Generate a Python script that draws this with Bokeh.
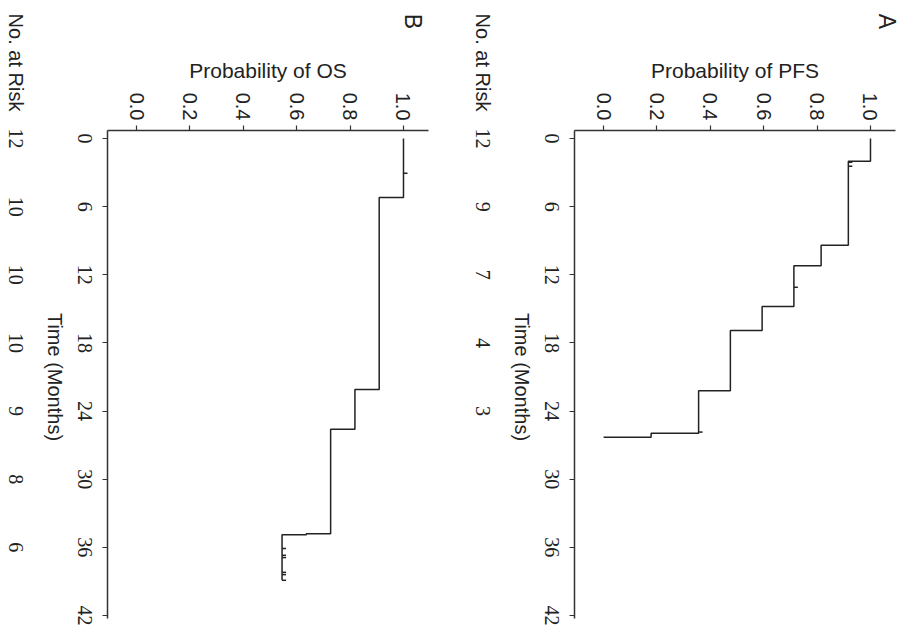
import math
from bokeh.plotting import figure
from bokeh.models import (Range1d, FixedTicker, PrintfTickFormatter, Label,
                          LabelSet, ColumnDataSource)
from bokeh.layouts import row
from bokeh.embed import file_html
from bokeh.resources import INLINE

# ---------------- data ----------------
time_ticks = [0, 6, 12, 18, 24, 30, 36, 42]
prob_ticks = [0.0, 0.2, 0.4, 0.6, 0.8, 1.0]

# Panel A: progression-free survival (step start times and survival levels)
pfs_time = [0, 2.0, 9.4, 11.2, 14.8, 16.9, 22.2, 25.95, 26.3]
pfs_surv = [1.0, 0.917, 0.815, 0.713, 0.594, 0.475, 0.356, 0.178, 0.0]
pfs_end = 26.3
pfs_cens_time = [2.1, 2.45, 13.1, 25.85]
pfs_cens_surv = [0.917, 0.917, 0.713, 0.356]
pfs_risk_time = [0, 6, 12, 18, 24]
pfs_risk = [12, 9, 7, 4, 3]

# Panel B: overall survival
os_time = [0, 5.2, 22.1, 25.6, 34.8, 34.9]
os_surv = [1.0, 0.909, 0.818, 0.727, 0.636, 0.545]
os_end = 38.9
os_cens_time = [3.05, 36.1, 36.7, 36.9, 38.2, 38.4, 38.9]
os_cens_surv = [1.0, 0.545, 0.545, 0.545, 0.545, 0.545, 0.545]
os_risk_time = [0, 6, 12, 18, 24, 30, 36]
os_risk = [12, 10, 10, 10, 9, 8, 6]

# ---------------- style / geometry ----------------
FONT = "Liberation Sans"
INK = "#222222"
AXIS = "#333333"
ROT = -math.pi / 2  # text reads top to bottom

H = 628            # figure height (px)
PX_P = 266.9       # px per unit probability
PX_T = 11.357      # px per month
T0_PX = 138        # y pixel of time 0
P_AXIS = -0.109    # probability where the time axis sits
P_AXIS_END = 1.094
T_AXIS = (130 - T0_PX) / PX_T      # time where the probability axis sits
T_AXIS_END = (618 - T0_PX) / PX_T


def km_path(times, surv, t_end):
    xs, ys = [surv[0]], [times[0]]
    for i in range(1, len(times)):
        xs += [surv[i - 1], surv[i]]
        ys += [times[i], times[i]]
    xs.append(surv[-1])
    ys.append(t_end)
    return xs, ys


def make_panel(letter, ylabel, times, surv, t_end, cens_t, cens_s,
               risk_t, risk_n, width, axis_px, letter_dx):
    x0 = P_AXIS - axis_px / PX_P
    x_rng = Range1d(x0, x0 + width / PX_P)
    y_rng = Range1d((H - T0_PX) / PX_T, -T0_PX / PX_T)
    p = figure(width=width, height=H, x_range=x_rng, y_range=y_rng,
               x_axis_location="above",
               output_backend="svg", toolbar_location=None, min_border=0)
    p.grid.visible = False
    p.outline_line_color = None
    p.background_fill_color = "white"
    p.border_fill_color = "white"

    # probability axis (top)
    xa = p.xaxis[0]
    xa.fixed_location = T_AXIS
    xa.bounds = (P_AXIS, P_AXIS_END)
    xa.ticker = FixedTicker(ticks=prob_ticks)
    xa.formatter = PrintfTickFormatter(format="%.1f")
    xa.major_label_orientation = ROT
    xa.major_label_standoff = 5
    xa.major_label_text_font = FONT
    xa.major_label_text_font_size = "20px"
    xa.major_label_text_color = INK
    xa.major_tick_out = 5
    xa.major_tick_in = 0
    xa.minor_tick_line_color = None
    xa.axis_line_color = AXIS
    xa.axis_line_width = 1.5
    xa.major_tick_line_color = AXIS
    xa.major_tick_line_width = 1.2
    xa.axis_label = ylabel
    xa.axis_label_text_font = FONT
    xa.axis_label_text_font_size = "21px"
    xa.axis_label_text_font_style = "normal"
    xa.axis_label_text_color = INK
    xa.axis_label_standoff = 8

    # time axis (left); its labels are drawn rotated below
    ya = p.yaxis[0]
    ya.fixed_location = P_AXIS
    ya.bounds = (T_AXIS, T_AXIS_END)
    ya.ticker = FixedTicker(ticks=time_ticks)
    ya.major_label_overrides = {t: "" for t in time_ticks}
    ya.major_tick_out = 5
    ya.major_tick_in = 0
    ya.minor_tick_line_color = None
    ya.axis_line_color = AXIS
    ya.axis_line_width = 1.5
    ya.major_tick_line_color = AXIS
    ya.major_tick_line_width = 1.2

    tick_src = ColumnDataSource(dict(t=time_ticks, label=[str(t) for t in time_ticks]))
    p.add_layout(LabelSet(x=P_AXIS, y="t", text="label", source=tick_src,
                          x_offset=-23, angle=ROT, text_align="center",
                          text_baseline="middle", text_font=FONT,
                          text_font_size="20px", text_color=INK))

    p.add_layout(Label(x=P_AXIS, y=21, x_offset=-53, text="Time (Months)",
                       angle=ROT, text_align="center", text_baseline="middle",
                       text_font=FONT, text_font_size="20px", text_color=INK))

    risk_src = ColumnDataSource(dict(t=risk_t, label=[str(n) for n in risk_n]))
    p.add_layout(LabelSet(x=P_AXIS, y="t", text="label", source=risk_src,
                          x_offset=-92, angle=ROT, text_align="center",
                          text_baseline="middle", text_font=FONT,
                          text_font_size="20px", text_color=INK))
    p.add_layout(Label(x=P_AXIS, y=-11.0, x_offset=-92, text="No. at Risk",
                       angle=ROT, text_align="left", text_baseline="middle",
                       text_font=FONT, text_font_size="20px", text_color=INK))

    p.add_layout(Label(x=P_AXIS_END, y=-10.3, x_offset=letter_dx, text=letter,
                       angle=ROT, text_align="center", text_baseline="middle",
                       text_font=FONT, text_font_size="23px", text_color=INK))

    xs, ys = km_path(times, surv, t_end)
    p.line(xs, ys, line_color=INK, line_width=1.5)
    p.ray(x=cens_s, y=cens_t, length=4, angle=0, length_units="screen",
          line_color=INK, line_width=1.5)
    return p


pB = make_panel("B", "Probability of OS", os_time, os_surv, os_end,
                os_cens_time, os_cens_surv, os_risk_time, os_risk,
                width=460, axis_px=107, letter_dx=-15.5)
pA = make_panel("A", "Probability of PFS", pfs_time, pfs_surv, pfs_end,
                pfs_cens_time, pfs_cens_surv, pfs_risk_time, pfs_risk,
                width=440, axis_px=114, letter_dx=-8.5)

layout = row(pB, pA)
open("out.html", "w").write(file_html(layout, INLINE))
